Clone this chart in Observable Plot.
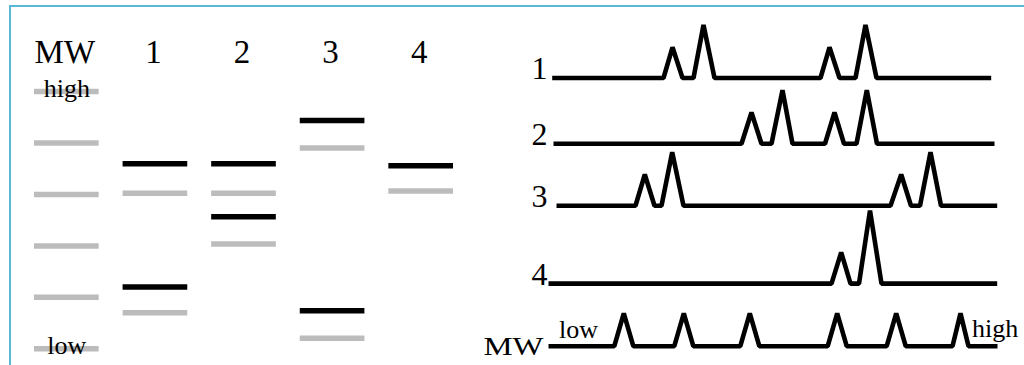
<!DOCTYPE html>
<html><head><meta charset="utf-8">
<script src="https://cdn.jsdelivr.net/npm/d3@7"></script>
<script src="https://cdn.jsdelivr.net/npm/@observablehq/plot@0.6"></script>
<style>
html,body{margin:0;padding:0;background:#fff;}
#wrap{position:relative;width:1024px;height:365px;overflow:hidden;background:#fff;}
#gel{position:absolute;left:0;top:0;}
#scan{position:absolute;left:500px;top:0;}
#frame{position:absolute;left:9px;top:5px;width:1100px;height:400px;border-top:2px solid #5bb8d4;border-left:2px solid #5bb8d4;pointer-events:none;}
svg text{font-family:"Liberation Serif", serif !important;}
</style></head><body>
<div id="wrap"><div id="gel"></div><div id="scan"></div><div id="frame"></div></div>
<script>
// ---- Gel (left panel) ----
const gelLanes = ["MW", "1", "2", "3", "4"];
const ladderRf = [0, 0.2, 0.4, 0.6, 0.8, 1.0];           // relative migration of MW ladder bands
const ladderLabels = ["high", "low"];
const sampleLane = ["1","1","1","1", "2","2","2","2", "3","3","3","3", "4","4"];
const sampleRf   = [0.281,0.395,0.760,0.860, 0.281,0.395,0.487,0.593, 0.113,0.220,0.852,0.959, 0.289,0.387];
const sampleKind = ["dark","light","dark","light", "dark","light","dark","light", "dark","light","dark","light", "dark","light"];

// ---- Densitometry scans (right panel) ----
const traceNames  = ["1", "2", "3", "4", "MW"];
const traceOffset = [5.06, 3.82, 2.65, 1.18, 0];          // stacking offset of each scan (signal units)
const traceStart  = [3.7, 5, 8, 0, 0];                     // scan distance where each trace starts
const traceEnd    = [442.7, 446, 448.7, 448.7, 449];
const peakTrace  = ["1","1","1","1", "2","2","2","2", "3","3","3","3", "4","4", "MW","MW","MW","MW","MW","MW"];
const peakRise   = [115,145,272,307, 193,223,276.5,308, 87,113,342,371.5, 283,310.5, 65.8,125.8,191.8,279.2,338.2,404];
const peakApex   = [124,155,281,317, 203,234,286,318.3, 96.3,123.7,352.7,382, 292.7,321.5, 75.3,135.3,201.3,288.7,347.7,412];
const peakFall   = [134,166,291,328, 213,244,295.5,328.5, 106,135,362.5,392.5, 302,333, 84.8,144.8,210.8,298.2,357.2,420];
const peakHeight = [0.58,1.0,0.58,1.0, 0.59,1.01,0.59,1.01, 0.59,1.01,0.59,1.01, 0.59,1.38, 0.62,0.62,0.62,0.62,0.62,0.62];
const scanLabels = ["low", "high"];

const serif = "Liberation Serif, serif";

const bands = [
  ...ladderRf.map(rf => ({lane: "MW", rf, kind: "light"})),
  ...sampleLane.map((lane, i) => ({lane, rf: sampleRf[i], kind: sampleKind[i]}))
];

const gel = Plot.plot({
  width: 500, height: 365, margin: 0,
  style: {fontFamily: serif, background: "transparent", overflow: "visible"},
  x: {type: "band", domain: gelLanes, range: [34, 453], paddingInner: 0.27, paddingOuter: 0, round: false, axis: null},
  y: {domain: [0, 1], range: [91, 348.3], axis: null},
  color: {type: "ordinal", domain: ["dark", "light"], range: ["#000000", "#bcbcbc"]},
  marks: [
    Plot.tickY(bands, {x: "lane", y: "rf", stroke: "kind", strokeWidth: 5.5}),
    Plot.text(gelLanes, {x: d => d, frameAnchor: "top", lineAnchor: "bottom", dx: -2, dy: 62, fontSize: 33, fill: "black"}),
    Plot.text(ladderLabels, {x: () => "MW", y: (d, i) => i === 0 ? ladderRf[0] : ladderRf[ladderRf.length - 1],
      lineAnchor: "bottom", dy: 5, fontSize: 26, fill: "black"})
  ]
});
document.getElementById("gel").appendChild(gel);

const pts = [];
traceNames.forEach((name, t) => {
  const off = traceOffset[t];
  pts.push({trace: name, u: traceStart[t], v: off});
  peakTrace.forEach((p, k) => {
    if (p !== name) return;
    pts.push({trace: name, u: peakRise[k], v: off});
    pts.push({trace: name, u: peakApex[k], v: off + peakHeight[k]});
    pts.push({trace: name, u: peakFall[k], v: off});
  });
  pts.push({trace: name, u: traceEnd[t], v: off});
});

const idx = [0, 1, 2, 3];
const scan = Plot.plot({
  width: 524, height: 365, margin: 0,
  style: {fontFamily: serif, background: "transparent", overflow: "visible"},
  x: {domain: [0, 449], range: [48, 497], axis: null},
  y: {domain: [0, 6], range: [345.7, 27.7], axis: null},
  marks: [
    Plot.line(pts, {x: "u", y: "v", z: "trace", stroke: "black", strokeWidth: 4.6, strokeLinejoin: "bevel", strokeLinecap: "butt"}),
    Plot.text(idx, {x: 0, y: i => traceOffset[i], text: i => traceNames[i], textAnchor: "end", lineAnchor: "bottom", dx: -1, dy: 1, fontSize: 32, fill: "black"}),
    Plot.text([4], {x: 0, y: i => traceOffset[i], text: i => traceNames[i], textAnchor: "end", lineAnchor: "bottom", dx: -5, dy: 9, fontSize: 25, fill: "black"}),
    Plot.text([scanLabels[0]], {x: 30, y: 0, lineAnchor: "bottom", dy: -8, fontSize: 26, fill: "black"}),
    Plot.text([scanLabels[1]], {x: 423.5, y: 0, textAnchor: "start", lineAnchor: "bottom", dy: -9, fontSize: 26, fill: "black"})
  ]
});
document.getElementById("scan").appendChild(scan);
d3.select(scan).selectAll("text").filter(function () { return this.textContent === "MW"; })
  .attr("textLength", 60).attr("lengthAdjust", "spacingAndGlyphs");
</script></body></html>
